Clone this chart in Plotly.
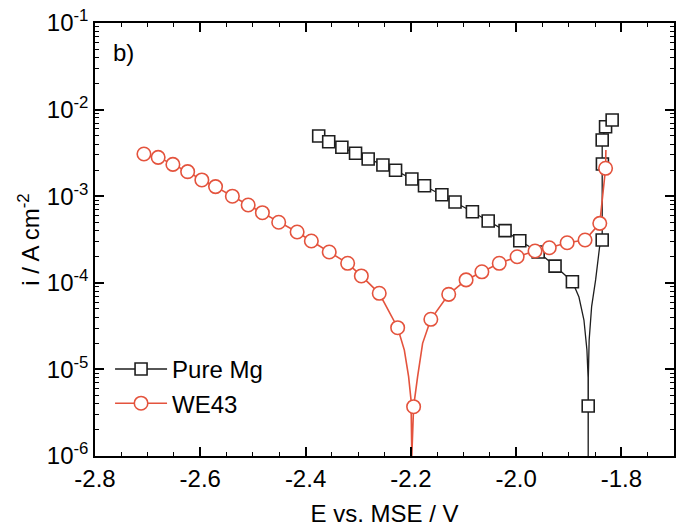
import plotly.graph_objects as go

# ---------------- data ----------------
# Pure Mg : cathodic branch markers
mg_cath_E = [-2.375, -2.356, -2.331, -2.305, -2.281, -2.253, -2.229, -2.198, -2.174,
             -2.141, -2.116, -2.083, -2.053, -2.021, -1.993, -1.958, -1.926, -1.893]
mg_cath_i = [4.96e-3, 4.26e-3, 3.67e-3, 3.13e-3, 2.69e-3, 2.29e-3, 1.99e-3, 1.58e-3, 1.32e-3,
             1.04e-3, 8.57e-4, 6.62e-4, 5.17e-4, 4.00e-4, 3.06e-4, 2.27e-4, 1.56e-4, 1.03e-4]
# Pure Mg : curve into the corrosion-potential cusp (line only)
mg_down_E = [-1.8806, -1.8711, -1.8654, -1.8632, -1.8630]
mg_down_i = [6.85e-5, 3.72e-5, 1.67e-5, 8.0e-6, 1.0e-6]
mg_up_E = [-1.8628, -1.8612, -1.8565, -1.8489, -1.8413]
mg_up_i = [8.0e-6, 2.18e-5, 5.30e-5, 1.08e-4, 2.61e-4]
# Pure Mg : marker at the cusp
mg_ecorr_E = [-1.863]
mg_ecorr_i = [3.78e-6]
# Pure Mg : anodic branch markers
mg_anod_E = [-1.8364, -1.8360, -1.8364, -1.8300, -1.8175]
mg_anod_i = [3.12e-4, 2.35e-3, 4.46e-3, 6.34e-3, 7.59e-3]

# WE43 : cathodic branch markers
we_cath_E = [-2.707, -2.680, -2.652, -2.624, -2.597, -2.571, -2.539, -2.509, -2.482,
             -2.451, -2.416, -2.389, -2.355, -2.320, -2.294, -2.260, -2.225]
we_cath_i = [3.07e-3, 2.81e-3, 2.33e-3, 1.92e-3, 1.54e-3, 1.29e-3, 1.00e-3, 7.91e-4, 6.45e-4,
             5.00e-4, 3.86e-4, 3.04e-4, 2.27e-4, 1.68e-4, 1.20e-4, 7.56e-5, 3.03e-5]
# WE43 : curve into the cusp (line only)
we_down_E = [-2.2123, -2.2042, -2.1996, -2.1981]
we_down_i = [1.67e-5, 8.24e-6, 4.43e-6, 1.0e-6]
# WE43 : marker at the cusp
we_ecorr_E = [-2.1947]
we_ecorr_i = [3.71e-6]
we_up_E = [-2.1871, -2.1776]
we_up_i = [8.24e-6, 2.0e-5]
# WE43 : anodic branch markers
we_anod_E = [-2.162, -2.128, -2.095, -2.065, -2.032, -1.998, -1.964, -1.937, -1.903,
             -1.869, -1.841, -1.830]
we_anod_i = [3.79e-5, 7.36e-5, 1.08e-4, 1.34e-4, 1.68e-4, 2.00e-4, 2.33e-4, 2.54e-4, 2.90e-4,
             3.12e-4, 4.86e-4, 2.10e-3]
we_tail_E = [-1.8294]
we_tail_i = [3.42e-3]

x_ticks = [-2.8, -2.6, -2.4, -2.2, -2.0, -1.8]
x_ticktext = ["-2.8", "-2.6", "-2.4", "-2.2", "-2.0", "-1.8"]
y_exps = [-6, -5, -4, -3, -2, -1]

# ---------------- styling ----------------
BLACK = "#1e1e1e"
RED = "#e4533d"
FONT = "Liberation Sans, Arial, sans-serif"
FS = 24

fig = go.Figure()

# Pure Mg line
fig.add_trace(go.Scatter(
    x=mg_cath_E + mg_down_E + mg_ecorr_E + mg_up_E + mg_anod_E,
    y=mg_cath_i + mg_down_i + mg_ecorr_i + mg_up_i + mg_anod_i,
    mode="lines", line=dict(color=BLACK, width=1.3), showlegend=False, hoverinfo="skip"))
# Pure Mg markers
fig.add_trace(go.Scatter(
    x=mg_cath_E + mg_ecorr_E + mg_anod_E,
    y=mg_cath_i + mg_ecorr_i + mg_anod_i,
    mode="markers", showlegend=False,
    marker=dict(symbol="square", size=12, color="white", line=dict(color=BLACK, width=1.6))))
# WE43 line
fig.add_trace(go.Scatter(
    x=we_cath_E + we_down_E + we_ecorr_E + we_up_E + we_anod_E + we_tail_E,
    y=we_cath_i + we_down_i + we_ecorr_i + we_up_i + we_anod_i + we_tail_i,
    mode="lines", line=dict(color=RED, width=1.6), showlegend=False, hoverinfo="skip"))
# WE43 markers
fig.add_trace(go.Scatter(
    x=we_cath_E + we_ecorr_E + we_anod_E,
    y=we_cath_i + we_ecorr_i + we_anod_i,
    mode="markers", showlegend=False,
    marker=dict(symbol="circle", size=13.5, color="white", line=dict(color=RED, width=1.6))))

# legend entries
fig.add_trace(go.Scatter(x=[None], y=[None], mode="lines+markers", name="Pure Mg",
                         line=dict(color=BLACK, width=1.3),
                         marker=dict(symbol="square", size=12, color="white",
                                     line=dict(color=BLACK, width=1.6))))
fig.add_trace(go.Scatter(x=[None], y=[None], mode="lines+markers", name="WE43",
                         line=dict(color=RED, width=1.5),
                         marker=dict(symbol="circle", size=13.5, color="white",
                                     line=dict(color=RED, width=1.6))))

axis_common = dict(showline=True, linewidth=1.5, linecolor="black", mirror="allticks",
                   ticks="inside", ticklen=9, tickwidth=1.5, tickcolor="black",
                   showgrid=False, zeroline=False, automargin=False)

minor_y = [m * 10.0 ** e for e in range(-6, -1) for m in range(2, 10)]

fig.update_xaxes(**axis_common, range=[-2.8, -1.7], tickmode="array",
                 tickvals=x_ticks, ticktext=x_ticktext,
                 minor=dict(ticks="inside", ticklen=4.5, tickwidth=1.3, dtick=0.05,
                            tick0=-2.8, tickcolor="black"),
                 tickfont=dict(size=FS, color="black", family=FONT),
                 title=dict(text="E vs. MSE / V", font=dict(size=FS, color="black", family=FONT),
                            standoff=15))
fig.update_yaxes(**axis_common, type="log", range=[-6, -1], tickmode="array",
                 tickvals=[10.0 ** e for e in y_exps],
                 ticktext=["10<sup>%d</sup>" % e for e in y_exps],
                 minor=dict(ticks="inside", ticklen=4.5, tickwidth=1.3, tickmode="array",
                            tickvals=minor_y, tickcolor="black"),
                 tickfont=dict(size=FS, color="black", family=FONT),
                 title=dict(text="i / A cm<sup>-2</sup>", font=dict(size=FS, color="black", family=FONT),
                            standoff=0))

fig.add_annotation(x=0.027, y=0.931, xref="paper", yref="paper", text="b)", showarrow=False,
                   xanchor="left", yanchor="middle", font=dict(size=FS, color="black", family=FONT))

fig.update_layout(
    width=683, height=527,
    margin=dict(l=95, r=9, t=23, b=71),
    paper_bgcolor="white", plot_bgcolor="white",
    font=dict(family=FONT, color="black"),
    legend=dict(x=0.026, y=0.252, xanchor="left", yanchor="top",
                bgcolor="rgba(0,0,0,0)", font=dict(size=FS, family=FONT, color="black"),
                itemwidth=52, tracegroupgap=0),
)

fig.write_html("out.html", config={"displayModeBar": False},
               post_script="document.body.style.margin='0';")
